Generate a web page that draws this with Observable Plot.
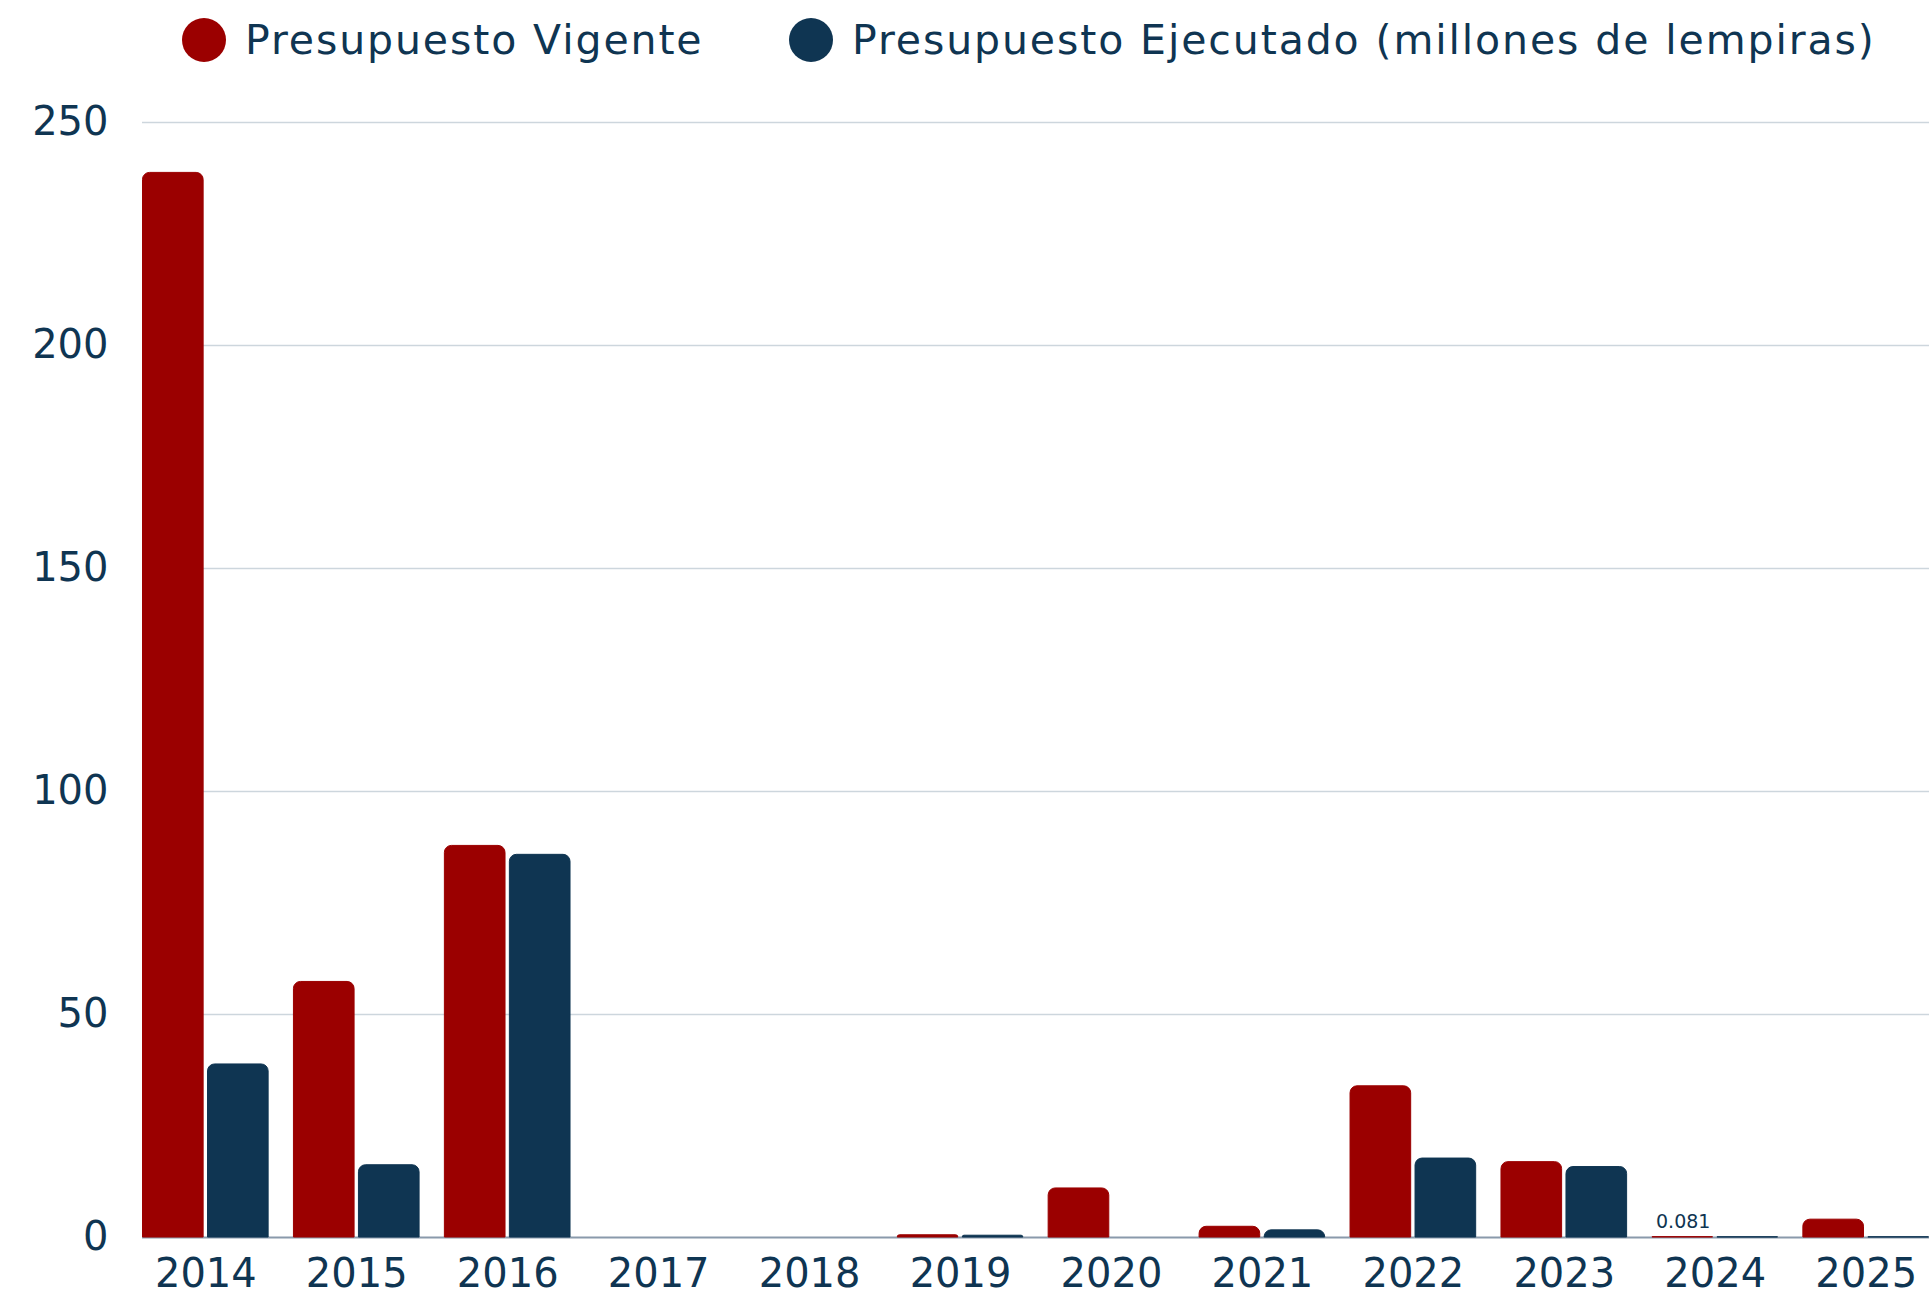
<!DOCTYPE html>
<html>
<head>
<meta charset="utf-8">
<script src="https://cdn.jsdelivr.net/npm/d3@7"></script>
<script src="https://cdn.jsdelivr.net/npm/@observablehq/plot@0.6"></script>
<style>
  html, body { margin: 0; padding: 0; background: #fff; overflow: hidden; }
  body { width: 1929px; height: 1296px; font-family: "DejaVu Sans", sans-serif; color: #0f3552; }
  #legend { position: relative; height: 80px; }
  .item { position: absolute; top: 0; height: 80px; display: flex; align-items: center; font-size: 41px; letter-spacing: 1.9px; white-space: nowrap; }
  .dot { width: 44px; height: 44px; border-radius: 50%; margin-right: 19px; }
</style>
</head>
<body>
<div id="legend"></div>
<div id="chart"></div>
<script>
const years = ["2014","2015","2016","2017","2018","2019","2020","2021","2022","2023","2024","2025"];
const vigente = [238.7, 57.3, 87.8, 0, 0, 0.5, 11.0, 2.4, 33.9, 16.9, 0.081, 4.0];
const ejecutado = [38.8, 16.2, 85.8, 0, 0, 0.4, 0, 1.6, 17.7, 15.8, 0.05, 0.05];
const seriesNames = ["Presupuesto Vigente", "Presupuesto Ejecutado (millones de lempiras)"];
const seriesColors = ["#9b0000", "#0f3552"];
const yTicks = [0, 50, 100, 150, 200, 250];
const labelYears = ["2024"];
const labelText = ["0.081"];

const legendPos = [182, 789];
const legend = document.getElementById("legend");
seriesNames.forEach((name, i) => {
  const it = document.createElement("div");
  it.className = "item";
  it.style.left = legendPos[i] + "px";
  it.innerHTML = `<span class="dot" style="background:${seriesColors[i]}"></span><span>${name}</span>`;
  legend.appendChild(it);
});

const vData = years.map((y, i) => ({year: y, value: vigente[i]}));
const eData = years.map((y, i) => ({year: y, value: ejecutado[i]}));
const lData = labelYears.map((y, i) => ({year: y, value: vigente[years.indexOf(y)], text: labelText[i]}));

const chart = Plot.plot({
  width: 1929,
  height: 1216,
  marginLeft: 142,
  marginRight: 0,
  marginTop: 42,
  marginBottom: 59,
  style: {fontFamily: "DejaVu Sans, sans-serif", fontSize: "40px", color: "#0f3552", background: "white", overflow: "visible"},
  x: {domain: years, paddingInner: 0.161, paddingOuter: 0, round: false, tickSize: 0, tickPadding: 21, label: null},
  y: {domain: [0, 250], ticks: yTicks, tickSize: 0, tickPadding: 34, label: null},
  marks: [
    Plot.ruleY(yTicks.filter(t => t > 0), {stroke: "#cdd6dd", strokeWidth: 1.5}),
    Plot.ruleY([0], {stroke: "#8a9aab", strokeWidth: 2}),
    Plot.barY(vData, {filter: d => d.value > 0, x: "year", y: "value", fill: seriesColors[0], stroke: seriesColors[0], strokeWidth: 1, insetLeft: 0.5, insetRight: 65.5, ry1: 7, rx1y1: 7, rx2y1: 7}),
    Plot.barY(eData, {filter: d => d.value > 0, x: "year", y: "value", fill: seriesColors[1], stroke: seriesColors[1], strokeWidth: 1, insetLeft: 65.5, insetRight: 0.5, ry1: 7, rx1y1: 7, rx2y1: 7}),
    Plot.text(lData, {x: "year", y: "value", text: "text", dx: -32, dy: -9, lineAnchor: "bottom", fontSize: 19, fill: "#0f3552"})
  ]
});
document.getElementById("chart").appendChild(chart);
</script>
</body>
</html>
